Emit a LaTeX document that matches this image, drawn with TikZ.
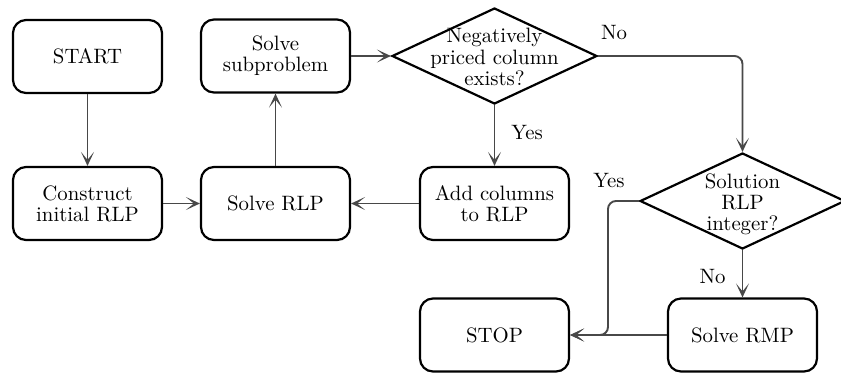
\documentclass[tikz,border=0pt]{standalone}
\usetikzlibrary{shapes.geometric,arrows.meta}
\definecolor{arrowgrey}{RGB}{72,72,72}
\begin{document}
\begin{tikzpicture}[x=0.5pt,y=-0.5pt, font=\fontsize{10.4}{10.6}\selectfont,
 box/.style={draw, line width=1.1pt, rounded corners=6.5pt, minimum width=74.5pt, minimum height=36.5pt, align=center, inner sep=0pt},
 dec/.style={draw, diamond, line width=1.1pt, minimum width=102.5pt, minimum height=48pt, inner sep=0pt},
 dtext/.style={align=center, inner sep=0pt},
 arr/.style={draw=arrowgrey, line width=0.95pt, -{Stealth[length=7pt,width=6.5pt,inset=4pt]}, rounded corners=4pt},
 lbl/.style={inner sep=0pt}]
\useasboundingbox (0,0) rectangle (841,372);
\node[box] (start) at (87.5,56.5) {START};
\node[box] (init) at (87.5,203.5) {Construct\\initial RLP};
\node[box] (sub) at (275.5,56) {Solve\\subproblem};
\node[box] (rlp) at (275.5,203.5) {Solve RLP};
\node[dec] (neg) at (494.5,56) {};
\node[dtext] (negt) at (494.5,57) {Negatively\\priced column\\exists?};
\node[box] (add) at (494.5,203.5) {Add columns\\to RLP};
\node[dec] (int) at (742.5,201) {};
\node[dtext] (intt) at (742.5,204) {Solution\\RLP\\integer?};
\node[box] (rmp) at (742.5,335) {Solve RMP};
\node[box] (stop) at (494.5,335) {STOP};
\coordinate (c1) at (742.5,56);
\coordinate (c2) at (608,201);
\coordinate (c3) at (608,335);
\draw[arr] (start) -- (init);
\draw[arr] (init) -- (rlp);
\draw[arr] (rlp) -- (sub);
\draw[arr] (sub) -- (neg);
\draw[arr] (neg.south) -- node[lbl, right=8pt, pos=0.45] (yes1) {Yes} (add);
\draw[arr] (add) -- (rlp);
\draw[arr] (neg.east) -- (c1) -- (int.north);
\draw[arr] (int.south) -- node[lbl, left=8pt, pos=0.55] (no2) {No} (rmp);
\draw[arr] (int.west) -- (c2) -- (c3) -- (stop.east);
\draw[arr] (rmp) -- (stop);
\node[lbl] (no1) at (614,33) {No};
\node[lbl] (yes2) at (609,180) {Yes};
\end{tikzpicture}
\end{document}
